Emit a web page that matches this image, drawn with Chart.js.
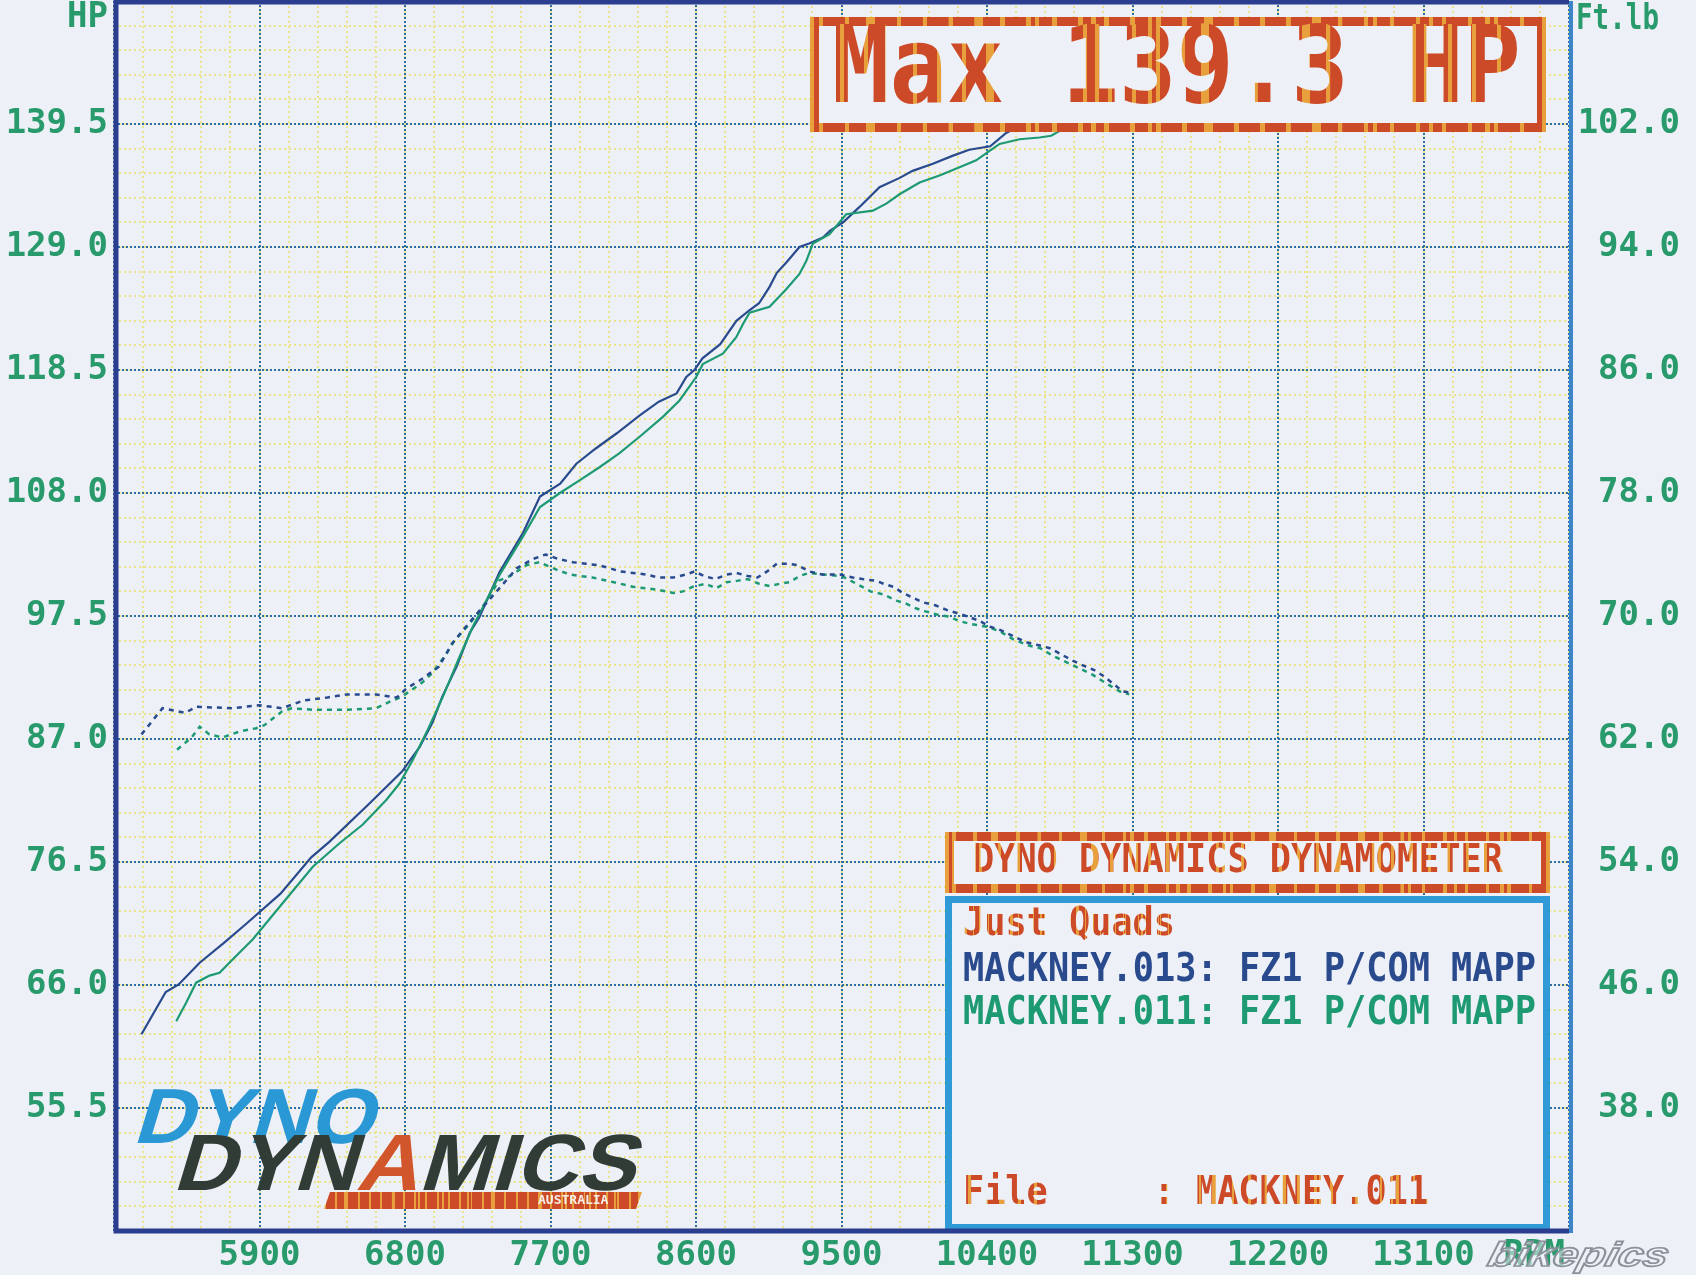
<!DOCTYPE html>
<html>
<head>
<meta charset="utf-8">
<title>Dyno Dynamics - Max 139.3 HP</title>
<script src="https://cdn.jsdelivr.net/npm/chart.js@4.4.1/dist/chart.umd.min.js"></script>
<style>
  html, body { margin: 0; padding: 0; background: #edf1f7; }
  #wrap { width: 1696px; height: 1275px; }
</style>
</head>
<body>
<div id="wrap"><canvas id="dyno" width="1696" height="1275"></canvas></div>
<script>
// ---- axes ----
const rpmMin = 5000, rpmMax = 14000, rpmStep = 900;
const hpMin = 45, hpMax = 150, hpStep = 10.5;
const tqMin = 30, tqMax = 110, tqStep = 8;

// ---- run MACKNEY.013 (blue) ----
const hp013Rpm = [5170, 5320, 5400, 5530, 5680, 5820, 6030, 6220, 6330, 6580, 6780, 6890, 6970, 7030, 7120, 7200, 7260, 7385, 7530, 7635, 7760, 7860, 7980, 8110, 8250, 8370, 8480, 8540, 8590, 8640, 8750, 8850, 8930, 8990, 9055, 9100, 9160, 9240, 9300, 9385, 9430, 9510, 9610, 9735, 9860, 9940, 10065, 10190, 10290, 10420, 10515, 10600, 10800, 11000, 11300];
const hp013 = [61.8, 65.4, 66.05, 67.9, 69.6, 71.25, 73.8, 76.9, 78.2, 81.5, 84.2, 86.3, 88.4, 90.6, 93.2, 96.05, 97.4, 101.25, 104.6, 107.7, 108.8, 110.5, 111.8, 113.1, 114.6, 115.8, 116.5, 117.9, 118.5, 119.5, 120.7, 122.7, 123.6, 124.2, 125.6, 126.8, 127.7, 129.0, 129.3, 129.8, 130.4, 131.1, 132.4, 134.1, 134.9, 135.5, 136.1, 136.8, 137.3, 137.6, 138.7, 139.3, 139.3, 139.2, 139.1];
const tq013Rpm = [5170, 5300, 5440, 5510, 5730, 5900, 6040, 6170, 6320, 6440, 6620, 6750, 6810, 6890, 7010, 7090, 7200, 7300, 7400, 7490, 7590, 7670, 7750, 7840, 7920, 8000, 8070, 8130, 8210, 8290, 8370, 8460, 8540, 8590, 8650, 8720, 8790, 8850, 8920, 8980, 9040, 9100, 9170, 9230, 9300, 9380, 9490, 9570, 9630, 9710, 9760, 9820, 9880, 9940, 10000, 10080, 10150, 10270, 10350, 10420, 10480, 10560, 10640, 10720, 10790, 10860, 10930, 10990, 11060, 11120, 11180, 11240, 11300];
const tq013 = [62.3, 64.0, 63.7, 64.1, 64.0, 64.2, 64.0, 64.5, 64.7, 64.9, 64.9, 64.7, 65.3, 65.8, 66.7, 68.2, 69.6, 70.8, 72.0, 73.1, 73.7, 74.0, 73.7, 73.5, 73.4, 73.3, 73.1, 72.9, 72.8, 72.7, 72.5, 72.5, 72.7, 72.9, 72.6, 72.4, 72.7, 72.8, 72.6, 72.5, 72.9, 73.4, 73.4, 73.3, 72.9, 72.7, 72.7, 72.5, 72.4, 72.3, 72.1, 71.9, 71.5, 71.2, 70.9, 70.7, 70.4, 70.0, 69.7, 69.3, 69.1, 68.7, 68.3, 68.1, 67.9, 67.5, 67.1, 66.8, 66.5, 66.1, 65.6, 65.1, 65.0];

// ---- run MACKNEY.011 (green) ----
const hp011Rpm = [5385, 5447, 5508, 5591, 5653, 5735, 5859, 6044, 6230, 6395, 6539, 6684, 6766, 6848, 6941, 7034, 7137, 7220, 7385, 7530, 7635, 7758, 7882, 8003, 8127, 8251, 8395, 8498, 8601, 8642, 8766, 8849, 8890, 8931, 9055, 9158, 9240, 9282, 9323, 9426, 9529, 9694, 9777, 9859, 9983, 10106, 10230, 10333, 10416, 10478, 10601, 10725, 10797, 10900, 11100, 11300];
const hp011 = [62.9, 64.5, 66.2, 66.8, 67.05, 68.2, 69.9, 73.0, 76.1, 78.1, 79.7, 81.8, 83.2, 85.2, 87.8, 90.6, 94.0, 96.6, 101.0, 104.3, 106.8, 108.0, 109.1, 110.2, 111.4, 112.8, 114.5, 115.9, 117.9, 119.0, 119.9, 121.3, 122.4, 123.4, 123.9, 125.4, 126.7, 127.8, 129.3, 130.1, 131.8, 132.1, 132.7, 133.5, 134.5, 135.1, 135.8, 136.4, 137.2, 137.8, 138.2, 138.35, 138.5, 139.3, 139.3, 139.2];
const tq011Rpm = [5390, 5480, 5530, 5590, 5670, 5780, 5880, 5930, 6040, 6100, 6230, 6440, 6620, 6700, 6770, 6830, 6910, 6970, 7060, 7100, 7200, 7300, 7380, 7450, 7550, 7630, 7740, 7820, 7880, 7960, 8050, 8130, 8210, 8290, 8370, 8460, 8520, 8580, 8660, 8725, 8790, 8860, 8920, 8990, 9055, 9120, 9180, 9240, 9300, 9380, 9500, 9610, 9680, 9760, 9840, 9900, 9960, 10020, 10090, 10170, 10220, 10290, 10400, 10480, 10560, 10650, 10730, 10810, 10890, 10970, 11050, 11140, 11220, 11280];
const tq011 = [61.3, 62.1, 62.8, 62.3, 62.1, 62.5, 62.7, 62.9, 63.8, 64.0, 63.9, 63.9, 64.0, 64.4, 64.7, 65.1, 65.7, 66.3, 67.6, 68.3, 69.5, 70.9, 72.3, 72.6, 73.3, 73.5, 73.0, 72.7, 72.6, 72.5, 72.3, 72.1, 71.9, 71.8, 71.7, 71.5, 71.6, 71.9, 72.1, 71.8, 72.2, 72.3, 72.4, 72.1, 71.95, 72.1, 72.2, 72.6, 72.8, 72.7, 72.6, 72.0, 71.6, 71.4, 71.0, 70.8, 70.5, 70.3, 70.1, 69.95, 69.7, 69.5, 69.3, 69.0, 68.5, 68.1, 67.9, 67.4, 67.0, 66.6, 66.2, 65.6, 65.1, 64.9];

// ---- text in the boxes ----
const shopName = "Just Quads";
const runLabels = ["MACKNEY.013: FZ1 P/COM MAPP", "MACKNEY.011: FZ1 P/COM MAPP"];
const fileLine = "File     : MACKNEY.011";

const PAPER = "#edf1f7";
const MONO = '"DejaVu Sans Mono", "Liberation Mono", monospace';
const SANS = '"Liberation Sans", Arial, sans-serif';
const LABEL_GREEN = "#289a6c";
const BLUE_RUN = "#2a4a8e";
const GREEN_RUN = "#1e9a72";
const RED = "#cd4a29", GOLD = "#e8a03c";

function pts(xs, ys) { return xs.map((x, i) => ({ x: x, y: ys[i] })); }

// red with thin gold streaks, like the printer output
function stripes(ctx, x0, x1) {
  const g = ctx.createLinearGradient(x0, 0, x1, 0);
  const n = 170;
  for (let i = 0; i < n; i++) {
    const c = (i % 6 === 2 || i % 13 === 0) ? GOLD : RED;
    g.addColorStop(i / n, c);
    g.addColorStop((i + 1) / n - 0.0001, c);
  }
  return g;
}

// mono text squeezed to a given width and stretched vertically
function monoText(ctx, str, x, y, size, width, sy, fill, align) {
  ctx.save();
  ctx.font = "bold " + size + "px " + MONO;
  ctx.textBaseline = "middle";
  ctx.textAlign = "left";
  const w = ctx.measureText(str).width;
  const sx = width ? width / w : 1;
  ctx.translate(align === "right" ? x - w * sx : x, y);
  ctx.scale(sx, sy);
  ctx.fillStyle = fill === "stripe" ? stripes(ctx, 0, w) : fill;
  ctx.fillText(str, 0, 0);
  ctx.restore();
}

function box(ctx, x, y, w, h, lw, stroke) {
  ctx.fillStyle = PAPER;
  ctx.fillRect(x, y, w, h);
  ctx.lineWidth = lw;
  ctx.strokeStyle = stroke;
  ctx.strokeRect(x + lw / 2, y + lw / 2, w - lw, h - lw);
}

function italicParts(ctx, parts, x, base, size, width, cap) {
  ctx.save();
  ctx.font = "bold " + size + "px " + SANS;
  ctx.textBaseline = "alphabetic";
  const total = parts.reduce((s, p) => s + ctx.measureText(p[0]).width, 0);
  ctx.translate(x, base);
  ctx.transform(1, 0, -0.3, 1, 0, 0);
  ctx.scale(width / total, cap);
  let cx = 0;
  parts.forEach(p => {
    ctx.fillStyle = p[1];
    ctx.fillText(p[0], cx, 0);
    cx += ctx.measureText(p[0]).width;
  });
  ctx.restore();
}

const dynoDecor = {
  id: "dynoDecor",
  beforeDraw(chart) {
    const ctx = chart.ctx;
    ctx.save();
    ctx.fillStyle = PAPER;
    ctx.fillRect(0, 0, chart.width, chart.height);
    ctx.restore();
  },
  afterDatasetsDraw(chart) {
    const ctx = chart.ctx;
    const a = chart.chartArea;
    ctx.save();

    // Max box
    box(ctx, 810, 17, 736, 115, 9, stripes(ctx, 810, 1546));
    const maxHp = Math.max(...hp013, ...hp011);
    monoText(ctx, "Max " + maxHp.toFixed(1) + " HP", 832, 74, 95, 689, 1.13, "stripe");

    // header + info boxes
    box(ctx, 945, 832, 605, 61, 9, stripes(ctx, 945, 1550));
    monoText(ctx, "DYNO DYNAMICS DYNAMOMETER", 973, 862, 35, 530, 1.12, "stripe");
    box(ctx, 945, 896, 605, 335, 7, "#2f9ad6");
    monoText(ctx, shopName, 963, 925, 35, 212, 1.12, "stripe");
    monoText(ctx, runLabels[0], 963, 971, 35, 573, 1.12, BLUE_RUN);
    monoText(ctx, runLabels[1], 963, 1014, 35, 573, 1.12, GREEN_RUN);
    monoText(ctx, fileLine, 963, 1194, 35, 466, 1.12, "stripe");

    // logo
    italicParts(ctx, [["DYNO", "#2b98d6"]], 132, 1143, 78, 240, 1.0);
    ctx.fillStyle = stripes(ctx, 320, 640);
    ctx.beginPath();
    ctx.moveTo(330, 1192); ctx.lineTo(642, 1192); ctx.lineTo(636, 1209); ctx.lineTo(324, 1209);
    ctx.closePath(); ctx.fill();
    italicParts(ctx, [["DYN", "#313c36"], ["A", "#d2562b"], ["MICS", "#313c36"]], 172, 1190, 80, 462, 1.0);
    ctx.font = "bold 13px " + MONO;
    ctx.fillStyle = "#f4efe6";
    ctx.textBaseline = "middle";
    ctx.fillText("AUSTRALIA", 538, 1201, 84);

    // plot frame
    ctx.lineWidth = 5;
    ctx.strokeStyle = "#2a3d8f";
    ctx.beginPath();
    ctx.moveTo(a.right, a.top + 1);
    ctx.lineTo(a.left + 2, a.top + 1);
    ctx.lineTo(a.left + 2, a.bottom);
    ctx.lineTo(a.right, a.bottom);
    ctx.stroke();
    ctx.lineWidth = 4;
    ctx.strokeStyle = "#3a86c8";
    ctx.beginPath();
    ctx.moveTo(a.right + 2, a.top);
    ctx.lineTo(a.right + 2, a.bottom + 2);
    ctx.stroke();
    ctx.restore();
  },
  afterDraw(chart) {
    const ctx = chart.ctx;
    ctx.save();
    monoText(ctx, "HP", 108, 18, 34, 0, 1.05, LABEL_GREEN, "right");
    monoText(ctx, "Ft.lb", 1576, 20, 34, 83, 1.05, LABEL_GREEN);
    monoText(ctx, "RPM", 1565, 1256, 34, 0, 1.05, LABEL_GREEN, "right");
    // bikepics watermark
    ctx.font = "italic bold 40px " + SANS;
    ctx.textBaseline = "alphabetic";
    const w = ctx.measureText("bikepics").width;
    ctx.translate(1486, 1266);
    ctx.transform(1, 0, -0.25, 1, 0, 0);
    ctx.scale(180 / w, 0.85);
    ctx.fillStyle = "rgba(236,240,246,0.55)";
    ctx.fillText("bikepics", 0, 0);
    ctx.lineWidth = 2;
    ctx.strokeStyle = "#8b909a";
    ctx.strokeText("bikepics", 0, 0);
    ctx.restore();
  }
};

const tickFont = { family: MONO, size: 34, weight: "bold", lineHeight: 1.2 };

function majorGrid() {
  return { color: "#2c6fa6", lineWidth: 2, drawTicks: false, z: -1 };
}
function minorGrid() {
  return { color: "#ece48a", lineWidth: 2, drawTicks: false, z: -2 };
}

new Chart(document.getElementById("dyno"), {
  type: "line",
  data: {
    datasets: [
      { label: "MACKNEY.013 Ft.lb", data: pts(tq013Rpm, tq013), yAxisID: "yTq",
        borderColor: BLUE_RUN, borderWidth: 2.5, borderDash: [5, 5], pointRadius: 0, tension: 0 },
      { label: "MACKNEY.011 Ft.lb", data: pts(tq011Rpm, tq011), yAxisID: "yTq",
        borderColor: GREEN_RUN, borderWidth: 2.5, borderDash: [5, 5], pointRadius: 0, tension: 0 },
      { label: "MACKNEY.011 HP", data: pts(hp011Rpm, hp011), yAxisID: "yHp",
        borderColor: GREEN_RUN, borderWidth: 2.2, pointRadius: 0, tension: 0 },
      { label: "MACKNEY.013 HP", data: pts(hp013Rpm, hp013), yAxisID: "yHp",
        borderColor: BLUE_RUN, borderWidth: 2.2, pointRadius: 0, tension: 0 }
    ]
  },
  options: {
    responsive: false,
    animation: false,
    devicePixelRatio: 1,
    layout: { padding: { top: 1, right: 16, bottom: 0, left: 0 } },
    plugins: { legend: { display: false }, tooltip: { enabled: false } },
    scales: {
      x: {
        type: "linear", position: "bottom", min: rpmMin, max: rpmMax,
        grid: majorGrid(), border: { display: false, dash: [2, 2] },
        ticks: {
          stepSize: rpmStep, autoSkip: false, maxRotation: 0, padding: 5,
          color: LABEL_GREEN, font: tickFont,
          callback: v => (v === rpmMin || v === rpmMax) ? "" : String(v)
        },
        afterFit: s => { s.height = 44; s.paddingLeft = 0; s.paddingRight = 0; }
      },
      xMinor: {
        type: "linear", position: "bottom", min: rpmMin, max: rpmMax,
        grid: minorGrid(), border: { display: false, dash: [2, 3] },
        ticks: { stepSize: rpmStep / 5, display: false },
        afterFit: s => { s.height = 0; s.paddingLeft = 0; s.paddingRight = 0; }
      },
      yHp: {
        type: "linear", position: "left", min: hpMin, max: hpMax,
        grid: majorGrid(), border: { display: false, dash: [2, 2] },
        ticks: {
          stepSize: hpStep, padding: 6, color: LABEL_GREEN, font: tickFont,
          callback: v => (v === hpMin || v === hpMax) ? "" : v.toFixed(1)
        },
        afterFit: s => { s.width = 114; s.paddingTop = 0; s.paddingBottom = 0; }
      },
      yMinor: {
        type: "linear", position: "left", min: hpMin, max: hpMax,
        grid: minorGrid(), border: { display: false, dash: [2, 3] },
        ticks: { stepSize: hpStep / 5, display: false },
        afterFit: s => { s.width = 0; s.paddingTop = 0; s.paddingBottom = 0; }
      },
      yTq: {
        type: "linear", position: "right", min: tqMin, max: tqMax,
        grid: { display: false, drawOnChartArea: false, drawTicks: false },
        border: { display: false },
        ticks: {
          stepSize: tqStep, crossAlign: "far", color: LABEL_GREEN, font: tickFont,
          callback: v => (v === tqMin || v === tqMax) ? "" : v.toFixed(1)
        },
        afterFit: s => { s.width = 111; s.paddingTop = 0; s.paddingBottom = 0; }
      }
    }
  },
  plugins: [dynoDecor]
});
</script>
</body>
</html>
